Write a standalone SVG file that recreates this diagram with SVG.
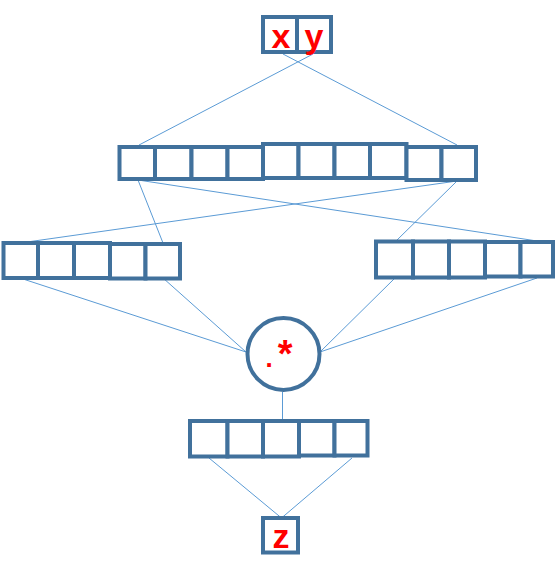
<svg xmlns="http://www.w3.org/2000/svg" width="556" height="581" viewBox="0 0 556 581">
<style>
.c{fill:#fff;stroke:#41719C;stroke-width:4}
.l{stroke:#5B9BD5;stroke-width:1;fill:none}
.t{font-family:"Liberation Sans",Arial,sans-serif;font-weight:bold;fill:#FF0000;text-anchor:middle}
</style>
<rect width="556" height="581" fill="#fff"/>
<g id="connectors">
<line class="l" x1="283" y1="54" x2="457" y2="145"/>
<line class="l" x1="313" y1="54" x2="139" y2="145"/>
<line class="l" x1="138" y1="180" x2="163" y2="243"/>
<line class="l" x1="138" y1="180" x2="537" y2="241"/>
<line class="l" x1="457" y1="181" x2="20" y2="243"/>
<line class="l" x1="457" y1="181" x2="395" y2="242"/>
<line class="l" x1="20" y1="278" x2="246" y2="352"/>
<line class="l" x1="163" y1="278" x2="246" y2="352"/>
<line class="l" x1="395" y1="278" x2="320" y2="352"/>
<line class="l" x1="537" y1="278" x2="320" y2="352"/>
<line class="l" x1="282.5" y1="392" x2="282.5" y2="420"/>
<line class="l" x1="209" y1="458" x2="281.5" y2="518"/>
<line class="l" x1="352" y1="458" x2="281.5" y2="518"/>
</g>
<g id="input-xy">
<rect class="c" x="263" y="17" width="34" height="35"/>
<rect class="c" x="297" y="17" width="34" height="35"/>
<text class="t" x="281" y="48" font-size="34">x</text>
<text class="t" x="314" y="48" font-size="34">y</text>
</g>
<g id="top-row">
<rect class="c" x="119.5" y="147" width="35.5" height="32"/>
<rect class="c" x="155" y="147" width="36.5" height="32"/>
<rect class="c" x="191.5" y="147" width="36" height="32"/>
<rect class="c" x="227.5" y="147" width="35.5" height="32"/>
<rect class="c" x="263" y="144" width="35.5" height="34"/>
<rect class="c" x="298.5" y="144" width="36" height="34"/>
<rect class="c" x="334.5" y="144" width="35.5" height="34"/>
<rect class="c" x="370" y="144" width="36.5" height="34"/>
<rect class="c" x="406.5" y="147" width="35" height="33"/>
<rect class="c" x="441.5" y="147" width="34.5" height="33"/>
</g>
<g id="left-row">
<rect class="c" x="3.5" y="243" width="34.5" height="35"/>
<rect class="c" x="38" y="243" width="36" height="35"/>
<rect class="c" x="74" y="243" width="36" height="35"/>
<rect class="c" x="110" y="244" width="35.5" height="34.5"/>
<rect class="c" x="145.5" y="244" width="34.5" height="34.5"/>
</g>
<g id="right-row">
<rect class="c" x="376" y="241.5" width="37" height="36"/>
<rect class="c" x="413" y="241.5" width="36" height="36"/>
<rect class="c" x="449" y="241.5" width="36" height="36"/>
<rect class="c" x="485" y="242" width="35.5" height="34.5"/>
<rect class="c" x="520.5" y="242" width="32.5" height="34.5"/>
</g>
<g id="op">
<circle cx="283.5" cy="354" r="36" fill="#fff" stroke="#41719C" stroke-width="4"/>
<text class="t" x="279" y="367" font-size="26">.<tspan dx="5" font-size="38">*</tspan></text>
</g>
<g id="bottom-row">
<rect class="c" x="190" y="421" width="37.5" height="35.5"/>
<rect class="c" x="227.5" y="421" width="35.5" height="35.5"/>
<rect class="c" x="263" y="421" width="36" height="35.5"/>
<rect class="c" x="299" y="421" width="35.5" height="34.5"/>
<rect class="c" x="334.5" y="421" width="33" height="34.5"/>
</g>
<g id="output-z">
<rect class="c" x="263" y="518" width="35" height="34.5"/>
<text class="t" x="281" y="548" font-size="34">z</text>
</g>
</svg>
